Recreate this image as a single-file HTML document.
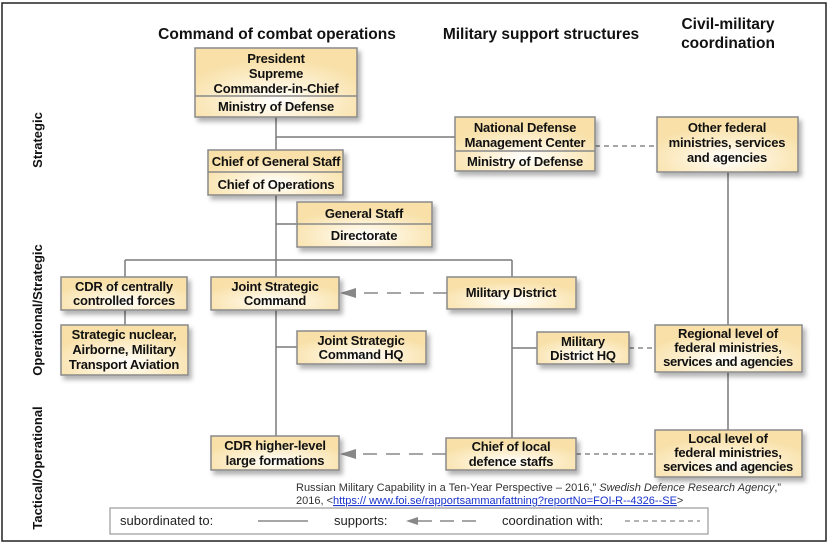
<!DOCTYPE html>
<html><head><meta charset="utf-8"><style>
html,body{margin:0;padding:0;background:#fff;}
svg{display:block;}
.h{font-family:"Liberation Sans",sans-serif;font-weight:bold;font-size:15.5px;fill:#111;text-anchor:middle;}
.b{font-family:"Liberation Sans",sans-serif;font-weight:bold;font-size:13px;fill:#111;text-anchor:middle;letter-spacing:-0.2px;}
.s{font-family:"Liberation Sans",sans-serif;font-weight:bold;font-size:13px;fill:#111;text-anchor:middle;}
.c{font-family:"Liberation Sans",sans-serif;font-size:11px;fill:#333;}
.l{font-family:"Liberation Sans",sans-serif;font-size:13px;fill:#222;}
</style></head><body>
<svg width="830" height="547" viewBox="0 0 830 547" xmlns="http://www.w3.org/2000/svg">
<defs>
<radialGradient id="g" cx="0.5" cy="0.75" r="0.6">
<stop offset="0" stop-color="#ffffff"/><stop offset="0.5" stop-color="#fdf0d0"/><stop offset="1" stop-color="#f8e0a8"/>
</radialGradient>
<filter id="sh" x="-10%" y="-10%" width="130%" height="140%"><feDropShadow dx="3" dy="4" stdDeviation="2.5" flood-color="#000" flood-opacity="0.3"/></filter>
</defs>
<rect x="2" y="3" width="824" height="538" fill="#fff" stroke="#222" stroke-width="1.5"/>
<text class="h" x="277" y="39">Command of combat operations</text>
<text class="h" x="541" y="39">Military support structures</text>
<text class="h" x="728" y="29">Civil-military</text>
<text class="h" x="728" y="48">coordination</text>
<g class="s">
<text transform="translate(42,140) rotate(-90)">Strategic</text>
<text transform="translate(42,310) rotate(-90)">Operational/Strategic</text>
<text transform="translate(42,468) rotate(-90)">Tactical/Operational</text>
</g>
<g stroke="#7a7a7a" stroke-width="1.5" fill="none">
<path d="M276 117V436M276 137H455M276 224H297M125 260H512M125 260V325M512 260V438M276 347H297M512 348H537M728 172V430"/>
</g>
<g stroke="#888" stroke-width="1.5" fill="none">
<path d="M595 146H657M629 348H655M576 454H655" stroke-dasharray="5 4"/>
<path d="M447 293H355M446 454H355" stroke-dasharray="14 9"/>
</g>
<path d="M340 293L356 288V298Z M340 454L356 449V459Z" fill="#888"/>
<g stroke="#8a8a8a" stroke-width="1.5" fill="url(#g)" filter="url(#sh)">
<rect x="195" y="48" width="162" height="69"/>
<rect x="208" y="150" width="135" height="45"/>
<rect x="297" y="202" width="135" height="45"/>
<rect x="455" y="117" width="140" height="54"/>
<rect x="657" y="117" width="141" height="55"/>
<rect x="61" y="277" width="126" height="33"/>
<rect x="211" y="277" width="128" height="33"/>
<rect x="447" y="277" width="129" height="32"/>
<rect x="61" y="325" width="127" height="50"/>
<rect x="297" y="331" width="129" height="33"/>
<rect x="537" y="332" width="92" height="32"/>
<rect x="655" y="325" width="147" height="47"/>
<rect x="211" y="436" width="128" height="34"/>
<rect x="446" y="438" width="130" height="32"/>
<rect x="655" y="430" width="147" height="47"/>
</g>
<g stroke="#8a8a8a" stroke-width="1.5">
<path d="M195 96H357M208 172H343M297 224H432M455 151H595"/>
</g>
<g class="b">
<text x="276" y="63">President</text>
<text x="276" y="78">Supreme</text>
<text x="276" y="93">Commander-in-Chief</text>
<text x="276" y="111">Ministry of Defense</text>
<text x="276" y="166">Chief of General Staff</text>
<text x="276" y="189">Chief of Operations</text>
<text x="364" y="218">General Staff</text>
<text x="364" y="240">Directorate</text>
<text x="525" y="132">National Defense</text>
<text x="525" y="147">Management Center</text>
<text x="525" y="166">Ministry of Defense</text>
<text x="727" y="132">Other federal</text>
<text x="727" y="147">ministries, services</text>
<text x="727" y="162">and agencies</text>
<text x="124" y="291">CDR of centrally</text>
<text x="124" y="305">controlled forces</text>
<text x="275" y="291">Joint Strategic</text>
<text x="275" y="305">Command</text>
<text x="511" y="297">Military District</text>
<text x="124" y="339">Strategic nuclear,</text>
<text x="124" y="354">Airborne, Military</text>
<text x="124" y="369">Transport Aviation</text>
<text x="361" y="345">Joint Strategic</text>
<text x="361" y="359">Command HQ</text>
<text x="583" y="346">Military</text>
<text x="583" y="360">District  HQ</text>
<text x="728" y="338">Regional level of</text>
<text x="728" y="352">federal ministries,</text>
<text x="728" y="366" style="letter-spacing:-0.4px">services and agencies</text>
<text x="275" y="450">CDR higher-level</text>
<text x="275" y="465">large formations</text>
<text x="511" y="451">Chief of local</text>
<text x="511" y="466">defence staffs</text>
<text x="728" y="443">Local level of</text>
<text x="728" y="457">federal ministries,</text>
<text x="728" y="471" style="letter-spacing:-0.4px">services and agencies</text>
</g>
<text class="c" x="296" y="491">Russian Military Capability in a Ten-Year Perspective – 2016,” <tspan font-style="italic">Swedish Defence Research Agency</tspan>,”</text>
<text class="c" x="296" y="504">2016, &lt;<tspan fill="#1a33cc" text-decoration="underline">https:// www.foi.se/rapportsammanfattning?reportNo=FOI-R--4326--SE</tspan>&gt;</text>
<rect x="110" y="508" width="598" height="26" fill="#fff" stroke="#999" stroke-width="1.2"/>
<text class="l" x="120" y="525">subordinated to:</text>
<path d="M258 521H308" stroke="#888" stroke-width="1.5"/>
<text class="l" x="334" y="525">supports:</text>
<path d="M406 521L418 517V525Z" fill="#888"/>
<path d="M418 521H480" stroke="#888" stroke-width="1.5" stroke-dasharray="14 8"/>
<text class="l" x="502" y="525">coordination with:</text>
<path d="M625 521H700" stroke="#888" stroke-width="1.2" stroke-dasharray="5 4"/>
</svg>
</body></html>
